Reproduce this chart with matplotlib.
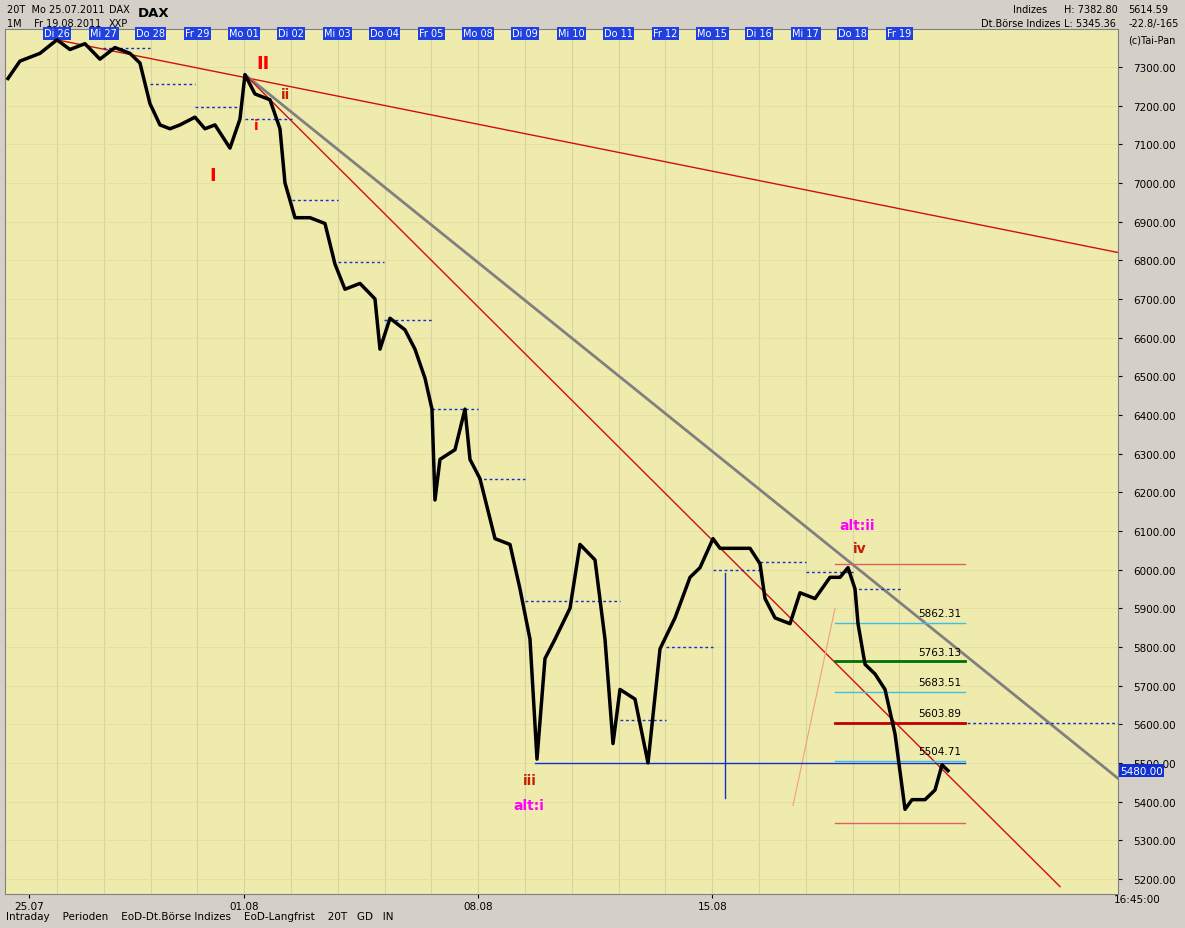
import matplotlib.pyplot as plt

# price trace: (pixel x -> day index, price), day 0 = Di 26
px = [8, 20, 40, 57, 70, 85, 100, 115, 130, 140, 150, 160, 170, 180, 195, 205, 215, 230, 240, 245,
      255, 270, 280, 285, 295, 310, 325, 335, 345, 360, 375, 380, 390, 405, 415, 425, 432, 435, 440,
      455, 465, 470, 480, 495, 510, 520, 530, 537, 545, 555, 570, 580, 595, 605, 613, 620, 635, 648,
      660, 675, 690, 700, 713, 720, 735, 750, 760, 765, 775, 790, 800, 815, 830, 840, 848, 855, 858,
      865, 875, 885, 895, 905, 912, 925, 935, 942, 948]
prices = [7270, 7315, 7335, 7370, 7345, 7360, 7320, 7350, 7335, 7310, 7205, 7150, 7140, 7150, 7170,
          7140, 7150, 7090, 7165, 7280, 7230, 7215, 7140, 7000, 6910, 6910, 6895, 6790, 6725, 6740,
          6700, 6570, 6650, 6620, 6570, 6495, 6415, 6180, 6285, 6310, 6415, 6285, 6235, 6080, 6065,
          5950, 5820, 5510, 5770, 5820, 5900, 6065, 6025, 5820, 5550, 5690, 5665, 5500, 5795, 5875,
          5980, 6005, 6080, 6055, 6055, 6055, 6015, 5925, 5875, 5860, 5940, 5925, 5980, 5980, 6005,
          5950, 5860, 5755, 5730, 5690, 5575, 5380, 5405, 5405, 5430, 5495, 5480]
days = ["Di 26", "Mi 27", "Do 28", "Fr 29", "Mo 01", "Di 02", "Mi 03", "Do 04", "Fr 05", "Mo 08",
        "Di 09", "Mi 10", "Do 11", "Fr 12", "Mo 15", "Di 16", "Mi 17", "Do 18", "Fr 19"]
fib_levels = [5862.31, 5763.13, 5683.51, 5603.89, 5504.71]
fib_colors = ['#40c0e0', '#007000', '#40c0e0', '#c00000', '#40c0e0']
fib_widths = [1, 2, 1, 2, 1]
date_labels = ["25.07", "01.08", "08.08", "15.08"]
date_pos = [-0.6, 4, 9, 14]

def d(x):
    return (x - 57) / 46.8

bg = '#EFEBAD'
fig = plt.figure(figsize=(11.85, 9.29), dpi=100, facecolor='#D4D0C8')
ax = fig.add_axes([5/1185, 1 - 895/929, 1113/1185, 865/929], facecolor=bg)
ax.set_xlim(-1.11, 22.67)
ax.set_ylim(5161, 7398)

for i in range(len(days)):
    ax.axvline(i, color='#d8d4a0', lw=0.8, zorder=0)
for p in range(5200, 7400, 100):
    ax.axhline(p, color='#e2dea4', lw=0.6, zorder=0)

# trend lines
ax.plot([0, 22.67], [7370, 6820], color='#d01010', lw=1)
ax.plot([d(245), 22.67], [7280, 5460], color='#808080', lw=2)
ax.plot([d(245), d(1060)], [7280, 5180], color='#d01010', lw=1)
ax.plot([d(793), d(835)], [5390, 5900], color='#f0a080', lw=0.8)

ax.plot([d(p) for p in px], prices, color='black', lw=2.5, zorder=5)

# short dashed blue levels
dash = [(103, 150, 7350), (150, 195, 7255), (195, 245, 7195), (245, 292, 7165), (292, 338, 6955),
        (338, 384, 6795), (384, 432, 6645), (432, 478, 6415), (478, 525, 6235), (525, 620, 5920),
        (620, 666, 5610), (666, 713, 5800), (713, 760, 6000), (760, 806, 6020), (806, 853, 5995),
        (853, 901, 5950)]
for a, b, p in dash:
    ax.plot([d(a), d(b)], [p, p], color='#1030d0', lw=1, ls=(0, (2, 2)))
ax.plot([d(945), 22.67], [5603, 5603], color='#1030d0', lw=1, ls=(0, (2, 2)))
ax.plot([d(535), d(965)], [5500, 5500], color='#1030d0', lw=1)
ax.plot([d(725), d(725)], [5410, 5990], color='#1030d0', lw=1)

ax.plot([d(835), d(965)], [6015, 6015], color='#e06060', lw=1)
ax.plot([d(835), d(965)], [5345, 5345], color='#e06060', lw=1)
for lv, c, w in zip(fib_levels, fib_colors, fib_widths):
    ax.plot([d(835), d(965)], [lv, lv], color=c, lw=w)
    ax.text(d(918), lv + 12, f"{lv:.2f}", fontsize=7.5, va='bottom')

labels = [("II", 263, 7310, 'red', 13), ("ii", 286, 7230, '#c02000', 10), ("i", 256, 7150, 'red', 10),
          ("I", 213, 7020, 'red', 13), ("iii", 530, 5455, '#c02000', 10), ("alt:i", 529, 5390, 'magenta', 10),
          ("alt:ii", 857, 6115, 'magenta', 10), ("iv", 860, 6055, '#c02000', 10)]
for t, x, y, c, s in labels:
    ax.text(d(x), y, t, color=c, fontsize=s, fontweight='bold', ha='center', va='center')

ax.yaxis.tick_right()
ax.set_yticks(range(5200, 7400, 100))
ax.set_yticklabels([f"{p}.00" for p in range(5200, 7400, 100)], fontsize=7.5)
ax.tick_params(axis='y', length=3, pad=8)
ax.set_xticks(date_pos)
ax.set_xticklabels(date_labels, fontsize=7.5)
ax.tick_params(axis='x', length=3, pad=2)
for s in ax.spines.values():
    s.set_color('#808080')

ax.text(22.72, 5480, "5480.00", fontsize=7.5, color='white', va='center',
        bbox=dict(fc='#1030d0', ec='none', pad=1))

for i, t in enumerate(days):
    ax.text(i, 7387, t, fontsize=7, color='white', ha='center', va='center',
            bbox=dict(fc='#2040e0', ec='none', pad=1))

# header
hs = 7
fig.text(0.006, 0.995, "20T  Mo 25.07.2011", fontsize=hs, va='top')
fig.text(0.006, 0.98, "1M    Fr 19.08.2011", fontsize=hs, va='top')
fig.text(0.092, 0.995, "DAX", fontsize=hs, va='top')
fig.text(0.092, 0.98, "XXP", fontsize=hs, va='top')
fig.text(0.116, 0.992, "DAX", fontsize=9.5, fontweight='bold', va='top')
fig.text(0.855, 0.995, "Indizes", fontsize=hs, va='top')
fig.text(0.828, 0.98, "Dt.Börse Indizes", fontsize=hs, va='top')
fig.text(0.898, 0.995, "H: 7382.80", fontsize=hs, va='top')
fig.text(0.898, 0.98, "L: 5345.36", fontsize=hs, va='top')
fig.text(0.952, 0.995, "5614.59", fontsize=hs, va='top')
fig.text(0.952, 0.98, "-22.8/-165", fontsize=hs, va='top')
fig.text(0.952, 0.962, "(c)Tai-Pan", fontsize=hs, va='top')

# bottom tab bar
fig.text(0.005, 0.008, "Intraday    Perioden    EoD-Dt.Börse Indizes    EoD-Langfrist    20T   GD   IN",
         fontsize=7.5, va='bottom')
fig.text(0.94, 0.026, "16:45:00", fontsize=7.5, va='bottom')

fig.savefig("out.png", dpi=100, facecolor=fig.get_facecolor())
